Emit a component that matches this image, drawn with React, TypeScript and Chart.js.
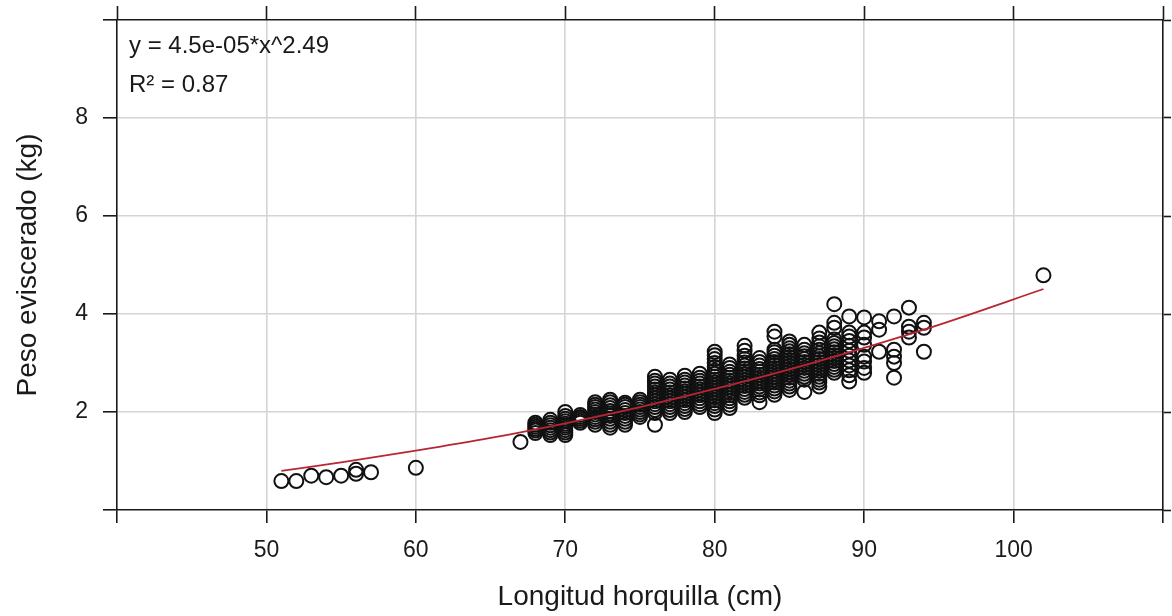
import React, { useEffect, useRef } from "react";
import { Chart, registerables } from "chart.js";

Chart.register(...registerables);

// Fork length (cm) of each measured group, and the gutted weights (kg) at that length
const lengthsCm = [51, 52, 53, 54, 55, 56, 57, 60, 67, 68, 69, 70, 71, 72, 73, 74, 75, 76, 77, 78, 79, 80, 81, 82, 83, 84, 85, 86, 87, 88, 89, 90, 91, 92, 93, 94, 102];
const weightsKg: number[][] = [
  [0.59],
  [0.59],
  [0.70],
  [0.67],
  [0.70],
  [0.74, 0.82],
  [0.77],
  [0.86],
  [1.39],
  [1.57, 1.62, 1.66, 1.70, 1.74, 1.78],
  [1.53, 1.58, 1.63, 1.68, 1.73, 1.78, 1.84],
  [1.53, 1.58, 1.63, 1.68, 1.72, 1.76, 1.81, 1.86, 1.92, 2.00],
  [1.78, 1.82, 1.86, 1.90, 1.94],
  [1.74, 1.80, 1.85, 1.90, 1.95, 2.00, 2.05, 2.10, 2.15, 2.20],
  [1.68, 1.74, 1.80, 1.86, 1.92, 1.97, 2.02, 2.08, 2.14, 2.20, 2.25],
  [1.74, 1.80, 1.86, 1.92, 1.98, 2.04, 2.10, 2.15, 2.19],
  [1.90, 1.95, 2.00, 2.05, 2.10, 2.15, 2.20, 2.25],
  [1.74, 1.98, 2.04, 2.10, 2.16, 2.22, 2.28, 2.34, 2.40, 2.46, 2.52, 2.58, 2.64, 2.72],
  [1.98, 2.04, 2.10, 2.16, 2.22, 2.28, 2.34, 2.40, 2.46, 2.52, 2.58, 2.66],
  [2.00, 2.06, 2.12, 2.18, 2.24, 2.30, 2.36, 2.42, 2.48, 2.54, 2.60, 2.66, 2.74],
  [2.10, 2.16, 2.22, 2.28, 2.34, 2.40, 2.46, 2.52, 2.58, 2.64, 2.70, 2.78],
  [1.98, 2.05, 2.12, 2.18, 2.24, 2.30, 2.36, 2.42, 2.48, 2.54, 2.60, 2.66, 2.72, 2.78, 2.84, 2.92, 3.00, 3.08, 3.16, 3.23],
  [2.08, 2.15, 2.22, 2.28, 2.34, 2.40, 2.46, 2.52, 2.58, 2.64, 2.70, 2.76, 2.82, 2.90, 2.97],
  [2.29, 2.35, 2.41, 2.47, 2.53, 2.59, 2.65, 2.71, 2.77, 2.83, 2.89, 2.95, 3.01, 3.08, 3.15, 3.25, 3.35],
  [2.20, 2.34, 2.40, 2.46, 2.52, 2.58, 2.64, 2.70, 2.76, 2.82, 2.88, 2.95, 3.02, 3.10],
  [2.35, 2.42, 2.48, 2.54, 2.60, 2.66, 2.72, 2.78, 2.84, 2.90, 2.96, 3.02, 3.08, 3.15, 3.22, 3.27, 3.54, 3.64],
  [2.45, 2.52, 2.58, 2.64, 2.70, 2.76, 2.82, 2.88, 2.94, 3.00, 3.06, 3.12, 3.18, 3.24, 3.30, 3.37, 3.44],
  [2.41, 2.66, 2.72, 2.78, 2.84, 2.90, 2.96, 3.02, 3.08, 3.14, 3.20, 3.27, 3.37],
  [2.52, 2.60, 2.66, 2.72, 2.78, 2.84, 2.90, 2.96, 3.02, 3.08, 3.14, 3.20, 3.27, 3.34, 3.42, 3.50, 3.62],
  [2.80, 2.86, 2.92, 2.98, 3.04, 3.10, 3.16, 3.22, 3.28, 3.34, 3.41, 3.48, 3.72, 3.82, 4.20],
  [2.62, 2.75, 2.85, 2.95, 3.05, 3.15, 3.25, 3.35, 3.45, 3.54, 3.62, 3.95],
  [2.80, 2.90, 3.03, 3.13, 3.37, 3.52, 3.62, 3.93],
  [3.23, 3.68, 3.85],
  [2.70, 3.00, 3.13, 3.27, 3.95],
  [3.52, 3.64, 3.74, 4.13],
  [3.23, 3.72, 3.82],
  [4.79],
];

// Fitted power curve y = 4.5e-05 * x^2.49, read at these lengths
const fitLengthsCm = [51, 55, 60, 65, 70, 75, 80, 85, 90, 95, 102];
const fitWeightsKg = [0.80, 0.97, 1.21, 1.47, 1.77, 2.10, 2.47, 2.87, 3.31, 3.78, 4.51];

// Axis ticks and labels
const xTickValues = [40, 50, 60, 70, 80, 90, 100, 110];
const xTickLabels = ["", "50", "60", "70", "80", "90", "100", ""];
const yTickValues = [0, 2, 4, 6, 8, 10];
const yTickLabels = ["", "2", "4", "6", "8", ""];

const equationText = "y = 4.5e-05*x^2.49";
const r2Text = "R\u00B2 = 0.87";
const xTitle = "Longitud horquilla (cm)";
const yTitle = "Peso eviscerado (kg)";

const FONT = '"Liberation Sans", Arial, Helvetica, sans-serif';
const INK = "#1a1a1a";
const GRID = "#d4d4d4";

export default function App() {
  const canvasRef = useRef<HTMLCanvasElement | null>(null);

  useEffect(() => {
    document.body.style.margin = "0";
    const canvas = canvasRef.current;
    if (!canvas) return;

    const points: { x: number; y: number }[] = [];
    lengthsCm.forEach((len, i) => {
      weightsKg[i].forEach((w) => points.push({ x: len, y: w }));
    });
    const fit = fitLengthsCm.map((x, i) => ({ x, y: fitWeightsKg[i] }));

    const labelFor = (values: number[], labels: string[]) => (v: any) => {
      const idx = values.indexOf(Number(v));
      return idx >= 0 ? labels[idx] : "";
    };
    const gridColor = (edges: number[]) => (ctx: any) =>
      ctx.tick && edges.includes(ctx.tick.value) ? "rgba(0,0,0,0)" : GRID;

    const fixSize = (w: number | null, h: number | null) => (s: any) => {
      if (w !== null) s.width = w;
      if (h !== null) s.height = h;
      s.paddingLeft = 0;
      s.paddingRight = 0;
      s.paddingTop = 0;
      s.paddingBottom = 0;
    };

    const annotation = {
      id: "annotation",
      afterDraw(chart: any) {
        const { ctx, chartArea } = chart;
        ctx.save();
        ctx.font = `24px ${FONT}`;
        ctx.fillStyle = INK;
        ctx.textBaseline = "middle";
        ctx.textAlign = "left";
        ctx.fillText(equationText, chartArea.left + 12, chartArea.top + 26);
        ctx.fillText(r2Text, chartArea.left + 12, chartArea.top + 65);
        ctx.restore();
      },
    };

    Chart.defaults.font.family = FONT;

    const chart = new Chart(canvas, {
      type: "scatter",
      data: {
        datasets: [
          {
            type: "line",
            data: fit,
            borderColor: "#b82633",
            borderWidth: 1.8,
            pointRadius: 0,
            fill: false,
            cubicInterpolationMode: "monotone",
            order: 0,
          } as any,
          {
            type: "scatter",
            data: points,
            pointStyle: "circle",
            pointRadius: 7,
            borderColor: "#111111",
            borderWidth: 2,
            backgroundColor: "rgba(0,0,0,0)",
            order: 1,
          },
        ],
      },
      plugins: [annotation],
      options: {
        animation: false,
        responsive: false,
        events: [],
        layout: { padding: 0 },
        plugins: { legend: { display: false }, tooltip: { enabled: false } },
        scales: {
          x: {
            type: "linear",
            position: "bottom",
            min: 40,
            max: 110,
            afterBuildTicks: (s: any) => {
              s.ticks = xTickValues.map((v) => ({ value: v }));
            },
            afterFit: fixSize(null, 106),
            ticks: {
              callback: labelFor(xTickValues, xTickLabels),
              font: { size: 23 },
              color: INK,
              padding: 14,
              maxRotation: 0,
              autoSkip: false,
            },
            grid: {
              color: gridColor([40, 110]),
              lineWidth: 1.6,
              tickColor: INK,
              tickLength: 13,
              tickWidth: 1.6,
            },
            border: { display: true, color: INK, width: 1.6 },
            title: {
              display: true,
              text: xTitle,
              font: { size: 28 },
              color: INK,
              padding: { top: 0, bottom: 2 },
            },
          },
          xTop: {
            type: "linear",
            position: "top",
            min: 40,
            max: 110,
            afterBuildTicks: (s: any) => {
              s.ticks = xTickValues.map((v) => ({ value: v }));
            },
            afterFit: fixSize(null, 20),
            ticks: { display: false },
            grid: {
              drawOnChartArea: false,
              tickColor: INK,
              tickLength: 14,
              tickWidth: 1.6,
            },
            border: { display: true, color: INK, width: 1.6 },
          },
          y: {
            type: "linear",
            position: "left",
            min: 0,
            max: 10,
            afterBuildTicks: (s: any) => {
              s.ticks = yTickValues.map((v) => ({ value: v }));
            },
            afterFit: fixSize(117, null),
            ticks: {
              callback: labelFor(yTickValues, yTickLabels),
              font: { size: 23 },
              color: INK,
              padding: 15,
              autoSkip: false,
            },
            grid: {
              color: gridColor([0, 10]),
              lineWidth: 1.6,
              tickColor: INK,
              tickLength: 14,
              tickWidth: 1.6,
            },
            border: { display: true, color: INK, width: 1.6 },
            title: {
              display: true,
              text: yTitle,
              font: { size: 28 },
              color: INK,
              padding: { top: 11, bottom: 0 },
            },
          },
          yRight: {
            type: "linear",
            position: "right",
            min: 0,
            max: 10,
            afterBuildTicks: (s: any) => {
              s.ticks = yTickValues.map((v) => ({ value: v }));
            },
            afterFit: fixSize(8, null),
            ticks: { display: false },
            grid: {
              drawOnChartArea: false,
              tickColor: INK,
              tickLength: 8,
              tickWidth: 1.6,
            },
            border: { display: true, color: INK, width: 1.6 },
          },
        },
      } as any,
    });

    return () => chart.destroy();
  }, []);

  return (
    <div style={{ position: "fixed", left: 0, top: 0, width: 1172, height: 616, background: "#fff" }}>
      <canvas ref={canvasRef} width={1172} height={616} style={{ display: "block" }} />
    </div>
  );
}
